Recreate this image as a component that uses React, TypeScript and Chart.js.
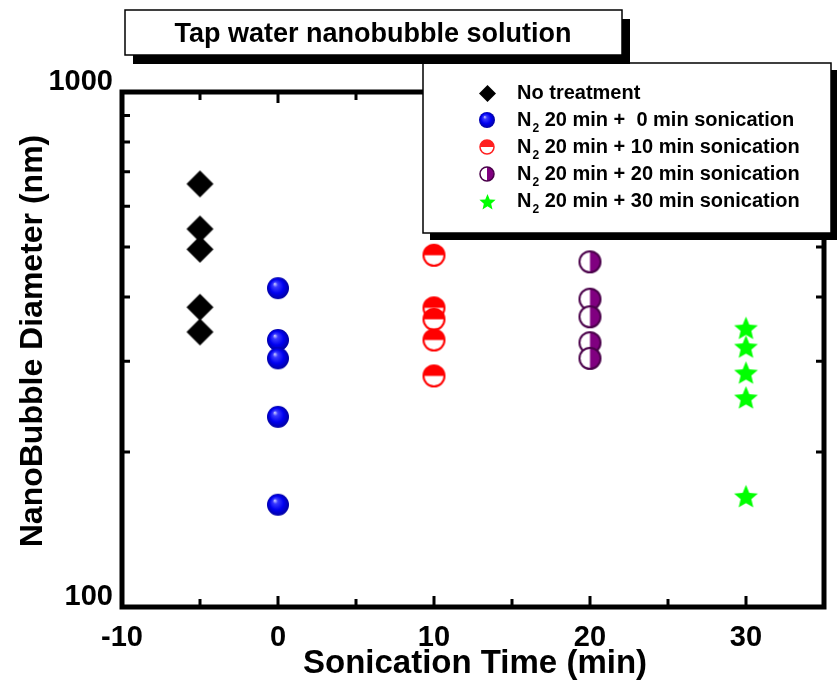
import React, { useEffect, useRef } from 'react';
import { Chart, registerables } from 'chart.js';

Chart.register(...registerables);

const FONT = '"Liberation Sans", Arial, Helvetica, sans-serif';

// ---- data ----
const seriesTimes = [-5, 0, 10, 20, 30];
const noTreatment = [663, 542, 495, 382, 342];
const sonication0 = [416, 330, 304, 234, 158];
const sonication10 = [482, 381, 362, 330, 281];
const sonication20 = [468, 396, 366, 326, 304];
const sonication30 = [348, 320, 285, 255, 164];
const xTicks = [-10, 0, 10, 20, 30];
const xMinorTicks = [-5, 5, 15, 25];
const yTicks = [100, 1000];
const yMinorTicks = [200, 300, 400, 500, 600, 700, 800, 900];
const chartTitle = 'Tap water nanobubble solution';
const xTitle = 'Sonication Time (min)';
const yTitle = 'NanoBubble Diameter (nm)';
const legendMain = ['No treatment', '', '', '', ''];
const legendN2Rest = ['', ' 20 min +  0 min sonication', ' 20 min + 10 min sonication', ' 20 min + 20 min sonication', ' 20 min + 30 min sonication'];

// ---- marker images ----
function makeCanvas(size: number, draw: (ctx: CanvasRenderingContext2D, c: number) => void) {
  const cv = document.createElement('canvas');
  cv.width = size;
  cv.height = size;
  const ctx = cv.getContext('2d')!;
  draw(ctx, size / 2);
  return cv;
}

function diamond(h: number) {
  return makeCanvas(Math.ceil(2 * h + 2), (ctx, c) => {
    ctx.beginPath();
    ctx.moveTo(c, c - h);
    ctx.lineTo(c + h, c);
    ctx.lineTo(c, c + h);
    ctx.lineTo(c - h, c);
    ctx.closePath();
    ctx.fillStyle = '#000';
    ctx.fill();
  });
}

function sphere(r: number) {
  return makeCanvas(Math.ceil(2 * r + 2), (ctx, c) => {
    const g = ctx.createRadialGradient(c - r * 0.3, c - r * 0.4, 0, c, c, r * 1.05);
    g.addColorStop(0, '#d8d8ff');
    g.addColorStop(0.22, '#3a3aff');
    g.addColorStop(0.6, '#0000f0');
    g.addColorStop(1, '#00009a');
    ctx.beginPath();
    ctx.arc(c, c, r, 0, Math.PI * 2);
    ctx.fillStyle = g;
    ctx.fill();
  });
}

function halfTop(r: number, color: string, lw: number) {
  return makeCanvas(Math.ceil(2 * r + 2 + lw), (ctx, c) => {
    ctx.beginPath();
    ctx.arc(c, c, r, 0, Math.PI * 2);
    ctx.fillStyle = '#fff';
    ctx.fill();
    ctx.beginPath();
    ctx.arc(c, c, r, Math.PI, Math.PI * 2);
    ctx.closePath();
    ctx.fillStyle = color;
    ctx.fill();
    ctx.beginPath();
    ctx.arc(c, c, r, 0, Math.PI * 2);
    ctx.lineWidth = lw;
    ctx.strokeStyle = color;
    ctx.stroke();
  });
}

function halfRight(r: number, color: string, lw: number) {
  return makeCanvas(Math.ceil(2 * r + 2 + lw), (ctx, c) => {
    ctx.beginPath();
    ctx.arc(c, c, r, 0, Math.PI * 2);
    ctx.fillStyle = '#fff';
    ctx.fill();
    ctx.beginPath();
    ctx.arc(c, c, r, -Math.PI / 2, Math.PI / 2);
    ctx.closePath();
    ctx.fillStyle = color;
    ctx.fill();
    ctx.beginPath();
    ctx.arc(c, c, r, 0, Math.PI * 2);
    ctx.lineWidth = lw;
    ctx.strokeStyle = '#4a004a';
    ctx.stroke();
  });
}

function star(R: number, color: string) {
  const inner = R * 0.45;
  return makeCanvas(Math.ceil(2 * R + 2), (ctx, c) => {
    ctx.beginPath();
    for (let i = 0; i < 10; i++) {
      const rad = i % 2 === 0 ? R : inner;
      const a = -Math.PI / 2 + (i * Math.PI) / 5;
      const px = c + rad * Math.cos(a);
      const py = c + 1 + rad * Math.sin(a);
      if (i === 0) ctx.moveTo(px, py);
      else ctx.lineTo(px, py);
    }
    ctx.closePath();
    ctx.fillStyle = color;
    ctx.fill();
  });
}

export default function App() {
  const ref = useRef<HTMLCanvasElement>(null);

  useEffect(() => {
    const bigMarkers = [
      diamond(13.5),
      sphere(11),
      halfTop(10.5, '#ff0000', 2),
      halfRight(10.5, '#800080', 2),
      star(12.5, '#00ff00'),
    ];
    const smallMarkers = [
      diamond(8.5),
      sphere(8),
      halfTop(7, '#ff2020', 1.5),
      halfRight(7, '#800080', 1.5),
      star(8.5, '#00ff00'),
    ];
    const allSeries = [noTreatment, sonication0, sonication10, sonication20, sonication30];

    const datasets = allSeries.map((vals, i) => ({
      label: legendMain[i] || 'N2' + legendN2Rest[i],
      data: vals.map((v) => ({ x: seriesTimes[i], y: v })),
      pointStyle: bigMarkers[i] as any,
      pointRadius: 12,
      showLine: false,
    }));

    const decorations = {
      id: 'decorations',
      beforeDraw(chart: any) {
        const ctx = chart.ctx;
        ctx.save();
        ctx.fillStyle = '#fff';
        ctx.fillRect(0, 0, chart.width, chart.height);
        ctx.restore();
      },
      afterDraw(chart: any) {
        const ctx: CanvasRenderingContext2D = chart.ctx;
        const { left, right, top, bottom } = chart.chartArea;
        const xs = chart.scales.x;
        const ys = chart.scales.y;
        ctx.save();
        ctx.strokeStyle = '#000';
        // tick marks (inward)
        ctx.lineWidth = 3;
        ctx.lineCap = 'butt';
        const drawXTick = (v: number, len: number) => {
          const px = xs.getPixelForValue(v);
          ctx.beginPath();
          ctx.moveTo(px, bottom);
          ctx.lineTo(px, bottom - len);
          ctx.moveTo(px, top);
          ctx.lineTo(px, top + len);
          ctx.stroke();
        };
        xTicks.forEach((v) => drawXTick(v, 11));
        xMinorTicks.forEach((v) => drawXTick(v, 8));
        yMinorTicks.forEach((v) => {
          const py = ys.getPixelForValue(v);
          ctx.beginPath();
          ctx.moveTo(left, py);
          ctx.lineTo(left + 8, py);
          ctx.moveTo(right, py);
          ctx.lineTo(right - 8, py);
          ctx.stroke();
        });
        // frame
        ctx.lineWidth = 5;
        ctx.lineJoin = 'miter';
        ctx.strokeRect(left, top, right - left, bottom - top);

        // axis titles
        ctx.fillStyle = '#000';
        ctx.font = `bold 33px ${FONT}`;
        ctx.textAlign = 'center';
        ctx.textBaseline = 'alphabetic';
        ctx.fillText(xTitle, 475, 673);
        ctx.font = `bold 32px ${FONT}`;
        ctx.save();
        ctx.translate(42, 341);
        ctx.rotate(-Math.PI / 2);
        ctx.fillText(yTitle, 0, 0);
        ctx.restore();

        // legend box
        const lx = 423, ly = 63, lw = 408, lh = 170;
        ctx.fillStyle = '#000';
        ctx.fillRect(lx + 7, ly + 7, lw, lh);
        ctx.fillStyle = '#fff';
        ctx.fillRect(lx, ly, lw, lh);
        ctx.lineWidth = 1.5;
        ctx.strokeStyle = '#000';
        ctx.strokeRect(lx, ly, lw, lh);
        for (let i = 0; i < 5; i++) {
          const ry = 93 + i * 27;
          const m = smallMarkers[i];
          ctx.drawImage(m, Math.round(487 - m.width / 2), Math.round(ry - m.height / 2));
          ctx.fillStyle = '#000';
          ctx.textAlign = 'left';
          ctx.textBaseline = 'middle';
          ctx.font = `bold 20px ${FONT}`;
          if (legendMain[i]) {
            ctx.fillText(legendMain[i], 517, ry);
          } else {
            ctx.fillText('N', 517, ry);
            const wN = ctx.measureText('N').width;
            ctx.font = `bold 12px ${FONT}`;
            ctx.fillText('2', 517 + wN + 1, ry + 9);
            const w2 = ctx.measureText('2').width;
            ctx.font = `bold 20px ${FONT}`;
            ctx.fillText(legendN2Rest[i], 517 + wN + 1 + w2, ry);
          }
        }

        // title box
        const tx = 125, ty = 10, tw = 497, th = 45;
        ctx.fillStyle = '#000';
        ctx.fillRect(tx + 8, ty + 9, tw, th);
        ctx.fillStyle = '#fff';
        ctx.fillRect(tx, ty, tw, th);
        ctx.lineWidth = 1.5;
        ctx.strokeRect(tx, ty, tw, th);
        ctx.fillStyle = '#000';
        ctx.font = `bold 27px ${FONT}`;
        ctx.textAlign = 'center';
        ctx.textBaseline = 'alphabetic';
        ctx.fillText(chartTitle, 373, 42);
        ctx.restore();
      },
    };

    const tickFont = { family: FONT, size: 29, weight: 'bold' as const };

    const chart = new Chart(ref.current!, {
      type: 'scatter',
      data: { datasets: datasets as any },
      options: {
        responsive: false,
        animation: false,
        events: [],
        layout: { padding: { top: 92, right: 11, bottom: 0, left: 0 } },
        plugins: {
          legend: { display: false },
          tooltip: { enabled: false },
          title: { display: false },
        },
        scales: {
          x: {
            type: 'linear',
            position: 'bottom',
            min: -10,
            max: 35,
            grid: { display: false },
            border: { display: false },
            ticks: {
              font: tickFont,
              color: '#000',
              padding: 6,
              autoSkip: false,
              maxRotation: 0,
              callback: (v: any) => String(v),
            },
            afterBuildTicks: (scale: any) => {
              scale.ticks = xTicks.map((v) => ({ value: v }));
            },
            afterFit: (scale: any) => {
              scale.height = 73;
            },
          },
          y: {
            type: 'logarithmic',
            position: 'left',
            min: 100,
            max: 1000,
            grid: { display: false },
            border: { display: false },
            ticks: {
              font: tickFont,
              color: '#000',
              padding: 1,
              labelOffset: -10,
              autoSkip: false,
              callback: (v: any) => String(v),
            },
            afterBuildTicks: (scale: any) => {
              scale.ticks = yTicks.map((v) => ({ value: v }));
            },
            afterFit: (scale: any) => {
              scale.width = 122;
            },
          },
        },
      } as any,
      plugins: [decorations],
    });
    return () => chart.destroy();
  }, []);

  return (
    <div style={{ position: 'absolute', left: 0, top: 0, width: 837, height: 680 }}>
      <canvas ref={ref} width={837} height={680} style={{ display: 'block' }} />
    </div>
  );
}
